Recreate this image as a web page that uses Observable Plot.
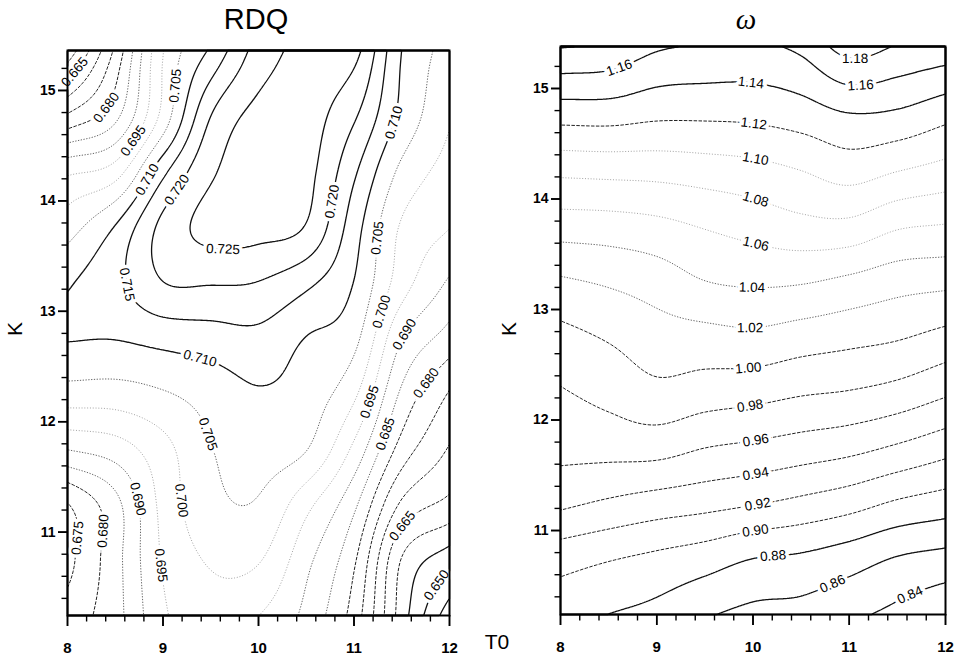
<!DOCTYPE html>
<html>
<head>
<meta charset="utf-8">
<script src="https://cdn.jsdelivr.net/npm/d3@7"></script>
<script src="https://cdn.jsdelivr.net/npm/@observablehq/plot@0.6"></script>
<style>
  body { margin: 0; background: #fff; }
  #wrap { position: relative; width: 963px; height: 657px; overflow: hidden; background: #fff; }
  #wrap > svg { position: absolute; top: 0; }
  .lab { position: absolute; color: #000; white-space: nowrap; line-height: 1.2; font-family: "Liberation Sans", Arial, sans-serif; }
</style>
</head>
<body>
<div id="wrap">
  <div class="lab" style="left:196px;top:2px;width:120px;text-align:center;font-size:29px;">RDQ</div>
  <div class="lab" style="left:716px;top:2px;width:60px;text-align:center;font-size:29px;font-style:italic;font-family:'Liberation Serif','DejaVu Serif',serif;">ω</div>
  <div class="lab" style="left:3px;top:316px;width:24px;height:26px;font-size:21px;transform:rotate(-90deg);text-align:center;">K</div>
  <div class="lab" style="left:497px;top:316px;width:24px;height:26px;font-size:21px;transform:rotate(-90deg);text-align:center;">K</div>
  <div class="lab" style="left:472px;top:629px;width:50px;text-align:center;font-size:21px;">T0</div>
</div>
<script>
// ---- grid coordinates ----
const T0 = [8, 8.5, 9, 9.5, 10, 10.5, 11, 11.5, 12];
const K = [10.25, 10.75, 11.25, 11.75, 12.25, 12.75, 13.25, 13.75, 14.25, 14.75, 15.25];

// RDQ values, one row per K (bottom to top), one column per T0
const rdqValues = [
  [0.6770, 0.6832, 0.6942, 0.6980, 0.6951, 0.6886, 0.6778, 0.6575, 0.6420],
  [0.6735, 0.6832, 0.6955, 0.7005, 0.7004, 0.6914, 0.6808, 0.6597, 0.6521],
  [0.6747, 0.6834, 0.6965, 0.7035, 0.7045, 0.6965, 0.6861, 0.6691, 0.6635],
  [0.6901, 0.6925, 0.6983, 0.7048, 0.7070, 0.7052, 0.6938, 0.6779, 0.6695],
  [0.7027, 0.7027, 0.7045, 0.7070, 0.7095, 0.7077, 0.7010, 0.6840, 0.6745],
  [0.7102, 0.7101, 0.7115, 0.7126, 0.7135, 0.7098, 0.7064, 0.6901, 0.6828],
  [0.7095, 0.7135, 0.7198, 0.7202, 0.7197, 0.7160, 0.7098, 0.6972, 0.6891],
  [0.7028, 0.7105, 0.7215, 0.7265, 0.7265, 0.7245, 0.7122, 0.6993, 0.6950],
  [0.6944, 0.6980, 0.7140, 0.7243, 0.7270, 0.7265, 0.7157, 0.7036, 0.6978],
  [0.6764, 0.6840, 0.7020, 0.7202, 0.7265, 0.7270, 0.7205, 0.7085, 0.7005],
  [0.6600, 0.6775, 0.7002, 0.7125, 0.7228, 0.7265, 0.7255, 0.7097, 0.7025]
];

// omega values, same layout
const omegaValues = [
  [0.8870, 0.8802, 0.8740, 0.8628, 0.8550, 0.8530, 0.8447, 0.8350, 0.8240],
  [0.9083, 0.9017, 0.8959, 0.8895, 0.8803, 0.8769, 0.8693, 0.8589, 0.8536],
  [0.9441, 0.9373, 0.9313, 0.9268, 0.9217, 0.9154, 0.9081, 0.8976, 0.8907],
  [0.9660, 0.9670, 0.9677, 0.9602, 0.9560, 0.9509, 0.9459, 0.9374, 0.9273],
  [0.9784, 0.9861, 0.9947, 0.9900, 0.9871, 0.9820, 0.9789, 0.9730, 0.9630],
  [0.9940, 1.0019, 1.0110, 1.0131, 1.0153, 1.0102, 1.0060, 1.0018, 0.9939],
  [1.0171, 1.0225, 1.0293, 1.0395, 1.0427, 1.0415, 1.0354, 1.0279, 1.0250],
  [1.0494, 1.0508, 1.0544, 1.0612, 1.0674, 1.0736, 1.0742, 1.0621, 1.0584],
  [1.0843, 1.0856, 1.0865, 1.0895, 1.0930, 1.0996, 1.1082, 1.1001, 1.0926],
  [1.1270, 1.1274, 1.1231, 1.1228, 1.1240, 1.1291, 1.1380, 1.1356, 1.1253],
  [1.1700, 1.1670, 1.1547, 1.1514, 1.1503, 1.1574, 1.1780, 1.1700, 1.1630]
];

// contour levels, grouped by how the line is drawn
const rdqSolid  = [0.645, 0.650, 0.655, 0.710, 0.715, 0.720, 0.725];
const rdqDashed = [0.660, 0.665, 0.670, 0.675, 0.680];
const rdqDotted = [0.685, 0.690, 0.705];
const rdqFaint  = [0.695, 0.700];

const omegaSolid  = [0.84, 0.86, 0.88, 1.14, 1.16, 1.18];
const omegaDashed = [0.90, 0.92, 0.94, 0.96, 0.98, 1.00, 1.12];
const omegaDotted = [1.02, 1.04];
const omegaFaint  = [1.06, 1.08, 1.10];

// contour labels (approximate positions)
const rdqLabelT0    = [8.30, 8.51, 8.68, 8.80, 9.22, 9.11, 9.63, 10.72, 11.42, 11.28, 8.66, 11.31, 11.51, 9.39, 9.48, 11.20, 11.69, 11.36, 8.69, 9.22, 8.38, 8.06, 8.98, 11.54, 11.73];
const rdqLabelK     = [15.02, 14.79, 14.55, 14.21, 15.03, 14.12, 13.59, 14.00, 14.71, 13.66, 13.25, 12.99, 12.80, 12.58, 11.89, 12.17, 12.39, 11.88, 11.29, 11.29, 11.01, 10.95, 10.70, 11.03, 10.59];
const rdqLabelLevel = [0.665, 0.680, 0.695, 0.710, 0.705, 0.720, 0.725, 0.720, 0.710, 0.705, 0.715, 0.700, 0.690, 0.710, 0.705, 0.695, 0.680, 0.685, 0.690, 0.700, 0.680, 0.675, 0.695, 0.665, 0.650];

const omegaLabelT0    = [8.59, 11.06, 11.12, 9.97, 10.01, 10.03, 10.03, 10.03, 9.99, 9.97, 9.95, 9.97, 10.03, 10.03, 10.05, 10.03, 10.21, 10.81, 11.61];
const omegaLabelK     = [15.24, 15.27, 15.00, 14.98, 14.69, 14.38, 14.01, 13.60, 13.20, 12.82, 12.47, 12.13, 11.81, 11.50, 11.23, 10.97, 10.76, 10.55, 10.46];
const omegaLabelLevel = [1.16, 1.18, 1.16, 1.14, 1.12, 1.10, 1.08, 1.06, 1.04, 1.02, 1.00, 0.98, 0.96, 0.94, 0.92, 0.90, 0.88, 0.86, 0.84];

// axis ticks
const xMajor = [8, 9, 10, 11, 12];
const yMajor = [11, 12, 13, 14, 15];
const xMinor = [8.2, 8.4, 8.6, 8.8, 9.2, 9.4, 9.6, 9.8, 10.2, 10.4, 10.6, 10.8, 11.2, 11.4, 11.6, 11.8];
const yMinor = [10.4, 10.6, 10.8, 11.2, 11.4, 11.6, 11.8, 12.2, 12.4, 12.6, 12.8, 13.2, 13.4, 13.6, 13.8, 14.2, 14.4, 14.6, 14.8, 15.2];

// ---- smooth surface through the grid (Catmull-Rom), used only to draw ----
function cubic(a, b, c, d, t) {
  return b + 0.5 * t * (c - a + t * (2 * a - 5 * b + 4 * c - d + t * (3 * (b - c) + d - a)));
}
function interp1(arr, u) {
  const n = arr.length;
  if (u <= 0) return arr[0] + u * (arr[1] - arr[0]);
  if (u >= n - 1) return arr[n - 1] + (u - (n - 1)) * (arr[n - 1] - arr[n - 2]);
  const i = Math.floor(u), t = u - i;
  const a = i > 0 ? arr[i - 1] : 2 * arr[0] - arr[1];
  const d = i + 2 < n ? arr[i + 2] : 2 * arr[n - 1] - arr[n - 2];
  return cubic(a, arr[i], arr[i + 1], d, t);
}
function makeField(grid) {
  const du = T0[1] - T0[0], dv = K[1] - K[0];
  return (t, k) => {
    const u = (t - T0[0]) / du, v = (k - K[0]) / dv;
    const col = grid.map(row => interp1(row, u));
    return interp1(col, v);
  };
}
// move a label onto its contour and align it with the line
function snap(f, t, k, level, sx, sy, fmt) {
  const h = 1e-3;
  const grad = (t, k) => [
    (f(t + h, k) - f(t - h, k)) / (2 * h) / sx,
    (f(t, k + h) - f(t, k - h)) / (2 * h) / sy
  ];
  for (let it = 0; it < 10; it++) {
    const v = f(t, k) - level;
    const [gx, gy] = grad(t, k);
    const g2 = gx * gx + gy * gy;
    if (g2 < 1e-16) break;
    let dx = -v * gx / g2, dy = -v * gy / g2;
    const m = Math.hypot(dx, dy);
    if (m > 5) { dx *= 5 / m; dy *= 5 / m; }
    t += dx / sx; k += dy / sy;
    if (m < 0.05) break;
  }
  const [gx, gy] = grad(t, k);
  let a = Math.atan2(gx, gy) * 180 / Math.PI;
  if (a > 90) a -= 180;
  if (a <= -90) a += 180;
  return {x: t, y: k, angle: a, text: fmt(level)};
}

const FONT = '"Liberation Sans Narrow", "Arial Narrow", "Liberation Sans", Arial, sans-serif';
const styles = {
  solid:  {stroke: "#111", width: 1.3, dash: null},
  dashed: {stroke: "#222", width: 1.0, dash: "3.5,1.4"},
  dotted: {stroke: "#555", width: 0.9, dash: "1.3,1.5"},
  faint:  {stroke: "#999", width: 0.9, dash: "1,1.8"}
};
const intFmt = d3.format("d");

function drawPanel(o) {
  const f = makeField(o.grid);
  const sx = (o.width - o.ml - o.mr) / 4;
  const sy = (o.height - o.mt - o.mb) / (o.yDomain[1] - o.yDomain[0]);
  const labels = o.labT0.map((t, i) => snap(f, t, o.labK[i], o.labLevel[i], sx, sy, o.fmt));
  const y0 = o.yDomain[0];
  const marks = o.groups.map(([levels, st]) => Plot.contour({
    x1: 8, x2: 12, y1: o.yDomain[0], y2: o.yDomain[1],
    value: f, thresholds: levels, pixelSize: 1,
    stroke: styles[st].stroke, strokeWidth: styles[st].width,
    strokeDasharray: styles[st].dash, fill: "none"
  }));
  marks.push(Plot.text(labels, {
    x: "x", y: "y", text: "text", rotate: "angle",
    fontSize: 13.5, fontFamily: '"Liberation Sans", Arial, sans-serif',
    fill: "#000", stroke: "white", strokeWidth: 7, paintOrder: "stroke", strokeLinejoin: "round"
  }));
  marks.push(Plot.frame({stroke: "#000", strokeWidth: 2}));
  // tick labels
  marks.push(Plot.axisX(xMajor, {tickSize: 11, tickPadding: 16, tickFormat: intFmt, label: null,
    fontSize: 15, fontWeight: "bold", fontFamily: FONT, stroke: "#000", strokeWidth: 1.5}));
  marks.push(Plot.axisY(yMajor, {tickSize: 9, tickPadding: 3, tickFormat: intFmt, label: null,
    fontSize: 14, fontWeight: "bold", fontFamily: FONT, stroke: "#000", strokeWidth: 1.5}));
  // tick marks drawn last, as short rules just outside the frame
  marks.push(Plot.ruleX(xMinor, {x: d => d, y1: y0, y2: y0 - 6.5 / sy, stroke: "#000", strokeWidth: 1.4}));
  marks.push(Plot.ruleY(yMinor, {y: d => d, x1: 8, x2: 8 - 5.5 / sx, stroke: "#000", strokeWidth: 1.4}));
  marks.push(Plot.ruleX(xMajor, {x: d => d, y1: y0, y2: y0 - 11 / sy, stroke: "#000", strokeWidth: 1.6}));
  marks.push(Plot.ruleY(yMajor, {y: d => d, x1: 8, x2: 8 - 9 / sx, stroke: "#000", strokeWidth: 1.6}));
  const svg = Plot.plot({
    width: o.width, height: o.height,
    marginTop: o.mt, marginRight: o.mr, marginBottom: o.mb, marginLeft: o.ml,
    x: {domain: [8, 12]},
    y: {domain: o.yDomain},
    style: {background: "transparent", overflow: "visible", fontFamily: FONT},
    marks
  });
  svg.style.left = o.left + "px";
  document.getElementById("wrap").appendChild(svg);
}

drawPanel({
  grid: rdqValues, left: 0, width: 480, height: 657,
  mt: 50, mr: 31, mb: 42, ml: 67, yDomain: [10.245, 15.362],
  groups: [[rdqFaint, "faint"], [rdqDotted, "dotted"], [rdqDashed, "dashed"], [rdqSolid, "solid"]],
  labT0: rdqLabelT0, labK: rdqLabelK, labLevel: rdqLabelLevel, fmt: d3.format(".3f")
});
drawPanel({
  grid: omegaValues, left: 480, width: 483, height: 657,
  mt: 46, mr: 18, mb: 43, ml: 80, yDomain: [10.24, 15.38],
  groups: [[omegaFaint, "faint"], [omegaDotted, "dotted"], [omegaDashed, "dashed"], [omegaSolid, "solid"]],
  labT0: omegaLabelT0, labK: omegaLabelK, labLevel: omegaLabelLevel, fmt: d3.format(".2f")
});
</script>
</body>
</html>
